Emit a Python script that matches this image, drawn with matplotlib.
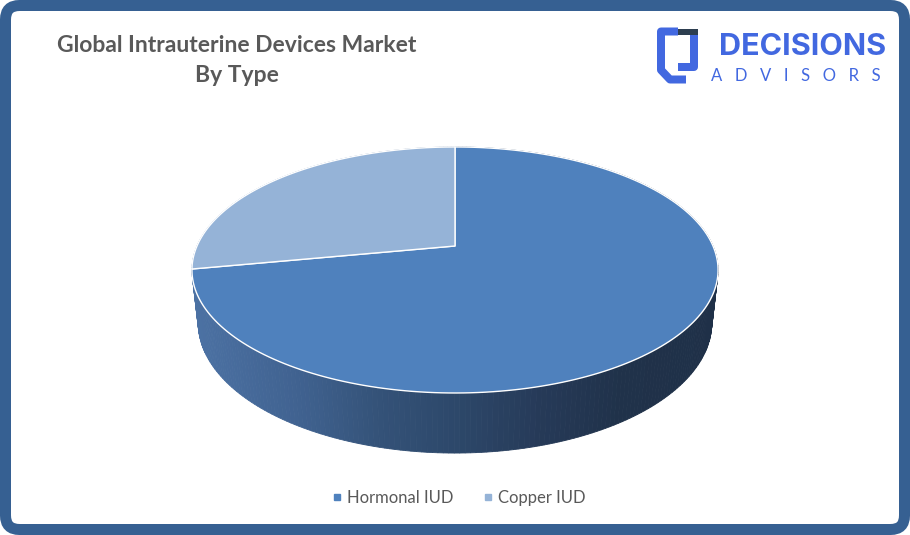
import numpy as np
import matplotlib
matplotlib.use("Agg")
import matplotlib.pyplot as plt
from matplotlib.patches import Polygon, FancyBboxPatch, Rectangle
from matplotlib.lines import Line2D
from matplotlib.path import Path
from matplotlib.patches import PathPatch

# ---- data ----
categories = ["Hormonal IUD", "Copper IUD"]
shares = [72, 28]
top_colors = ["#4f81bd", "#95b3d7"]
title_lines = ["Global Intrauterine Devices Market", "By Type"]

W, H = 910, 535
fig = plt.figure(figsize=(W / 100, H / 100), dpi=100)
ax = fig.add_axes([0, 0, 1, 1])
ax.set_xlim(0, W)
ax.set_ylim(H, 0)
ax.axis("off")

# frame
frame = FancyBboxPatch((5.5, 5.5), W - 11, H - 11,
                       boxstyle="round,pad=0,rounding_size=14",
                       linewidth=11 * 0.72, edgecolor="#366092",
                       facecolor="white", zorder=0)
ax.add_patch(frame)

# ---- 3D pie projection ----
cx, cy = 455, 246
elev = np.radians(27.3)
Dd, Ff, hh = 4.558, 1176.0, 0.232


def proj(theta, z):
    X = np.cos(theta)
    Y = np.sin(theta)
    yc = Y * np.sin(elev) + z * np.cos(elev)
    zc = Dd + Y * np.cos(elev) - z * np.sin(elev)
    return cx + X * Ff / zc, cy - yc * Ff / zc


# wedge angles (clockwise from 12 o'clock)
total = float(sum(shares))
bounds = [90.0]
for s in shares:
    bounds.append(bounds[-1] - s / total * 360.0)

# side gradient colour by screen x
sx = [193, 300, 380, 455, 540, 620, 718]
sr = [76, 64, 52, 45, 38, 32, 31]
sg = [114, 98, 82, 72, 58, 50, 48]
sb = [164, 144, 120, 106, 88, 74, 72]


def side_col(u, light=False):
    c = np.array([np.interp(u, sx, sr), np.interp(u, sx, sg), np.interp(u, sx, sb)]) / 255
    if light:
        c = 0.55 * c + 0.45 * np.array([149, 179, 215]) / 255
    return c


quads = []
for i in range(len(shares)):
    a0, a1 = np.radians(bounds[i]), np.radians(bounds[i + 1])
    n = max(int(abs(bounds[i] - bounds[i + 1]) / 1.0), 2)
    th = np.linspace(a0, a1, n + 1)
    for j in range(n):
        t0, t1 = th[j], th[j + 1]
        p = [proj(t0, 0), proj(t1, 0), proj(t1, -hh), proj(t0, -hh)]
        depth = np.sin((t0 + t1) / 2)
        umid = np.mean([q[0] for q in p])
        quads.append((depth, p, side_col(umid, light=(i == 1))))
quads.sort(key=lambda q: -q[0])
for d, p, c in quads:
    ax.add_patch(Polygon(p, closed=True, facecolor=c, edgecolor=c,
                         linewidth=0.6, zorder=2))

# top faces
for i in range(len(shares)):
    th = np.radians(np.linspace(bounds[i], bounds[i + 1], 200))
    pts = [(cx, cy)] + [proj(t, 0) for t in th]
    ax.add_patch(Polygon(pts, closed=True, facecolor=top_colors[i],
                         edgecolor="white", linewidth=1.0, zorder=3,
                         joinstyle="round"))

# ---- title ----
ax.text(236.5, 45, title_lines[0], ha="center", va="center", fontsize=16.5,
        fontweight="bold", color="#595959", family="Lato")
ax.text(236.5, 75, title_lines[1], ha="center", va="center", fontsize=16.5,
        fontweight="bold", color="#595959", family="Lato")

# ---- logo ----
blue = "#4268e0"
left_piece = Path([(678, 31.5), (661, 31.5), (661, 70), (670, 79.5), (686, 79.5)])
right_piece = Path([(694, 35), (694, 67), (678, 67)])
for pth in (left_piece, right_piece):
    ax.add_patch(PathPatch(pth, facecolor="none", edgecolor=blue,
                           linewidth=8 * 0.72, joinstyle="round",
                           capstyle="butt", zorder=4))
ax.add_patch(Rectangle((678, 29), 20, 6, facecolor="#2d3e50",
                       edgecolor="none", zorder=5))
ax.text(719, 47, "DECISIONS", ha="left", va="center", fontsize=22,
        fontweight="bold", color=blue, family="Inter")
ax.text(711, 76, "A\u2002 D\u2002 V\u2002 I\u2002 S\u2002 O\u2002 R\u2002 S",
        ha="left", va="center", fontsize=12, color=blue,
        family=["Lato", "DejaVu Sans"])

# ---- legend ----
handles = [Line2D([], [], linestyle="none", marker="s", markersize=5,
                  markerfacecolor=c, markeredgecolor=c) for c in top_colors]
leg = ax.legend(handles, categories, loc="center",
                bbox_to_anchor=(459 / W, 1 - 498 / H), ncol=2, frameon=False,
                handlelength=0.5, handletextpad=0.35, columnspacing=1.8,
                prop={"family": "Lato", "size": 12})
for t in leg.get_texts():
    t.set_color("#595959")

fig.savefig("out.png", dpi=100)
